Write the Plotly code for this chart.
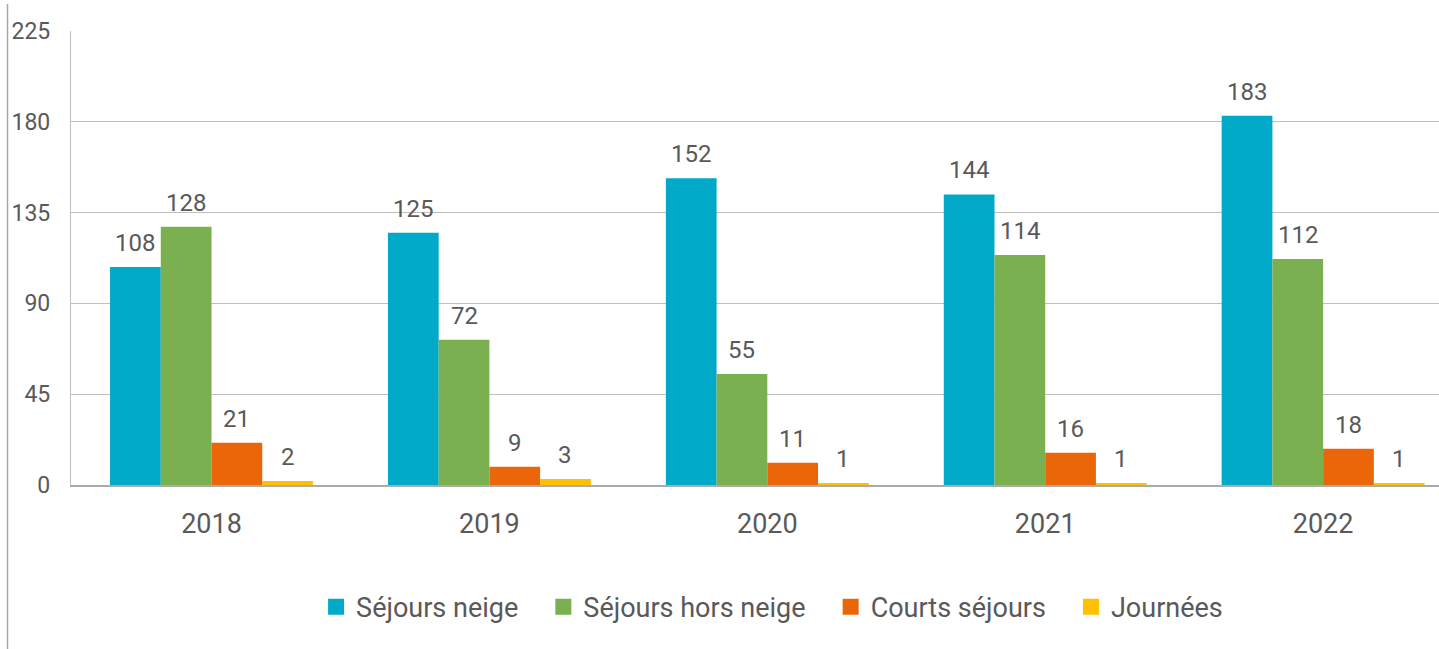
import plotly.graph_objects as go

years = ["2018", "2019", "2020", "2021", "2022"]
sejours_neige = [108, 125, 152, 144, 183]
sejours_hors_neige = [128, 72, 55, 114, 112]
courts_sejours = [21, 9, 11, 16, 18]
journees = [2, 3, 1, 1, 1]

series = [
    ("Séjours neige", sejours_neige, "#00A9C8"),
    ("Séjours hors neige", sejours_hors_neige, "#7AB04F"),
    ("Courts séjours", courts_sejours, "#EB6608"),
    ("Journées", journees, "#FFC000"),
]

FONT = "Roboto"
GREY = "#595959"
BARGAP = 0.27
NB = "\u00a0"

fig = go.Figure()
n = len(series)
slot = (1 - BARGAP) / n
for i, (name, vals, col) in enumerate(series):
    fig.add_trace(go.Bar(
        name=name, x=years, y=vals, marker_color=col, marker_line_width=0,
        showlegend=False,
    ))
    # legend entry with larger square swatch
    label = name + (NB * 3 if i < n - 1 else "")
    fig.add_trace(go.Scatter(
        name=label, x=[None], y=[None], mode="markers",
        marker=dict(symbol="square", size=16, color=col), showlegend=True,
    ))
    # value labels above each bar
    for j, v in enumerate(vals):
        fig.add_annotation(
            x=j + (i - (n - 1) / 2) * slot, y=v, xref="x", yref="y",
            text=str(v), showarrow=False, yanchor="bottom", yshift=8,
            font=dict(family=FONT, size=24, color=GREY),
        )

fig.update_layout(
    width=1439, height=649,
    paper_bgcolor="white", plot_bgcolor="white",
    margin=dict(l=71, r=0, t=31, b=164, autoexpand=False),
    barmode="group", bargap=BARGAP, bargroupgap=0,
    font=dict(family=FONT, color=GREY),
    legend=dict(orientation="h", x=0.5125, xanchor="center", y=-0.269, yanchor="middle",
                font=dict(family=FONT, size=27, color=GREY), itemwidth=30,
                traceorder="normal", itemsizing="trace"),
    xaxis=dict(showgrid=False, showline=True, linecolor="#ABABAB", linewidth=1.5,
               tickfont=dict(family=FONT, size=27, color=GREY), ticks="",
               ticklabelstandoff=14, range=[-0.5056, 4.417], fixedrange=True),
    yaxis=dict(range=[0, 225], tickvals=[0, 45, 90, 135, 180, 225],
               showgrid=True, gridcolor="#BFBFBF", gridwidth=1.2,
               showline=True, linecolor="#BFBFBF", linewidth=1.2,
               zeroline=False, ticks="",
               tickfont=dict(family=FONT, size=23, color=GREY),
               ticklabelstandoff=15),
    showlegend=True,
)

fig.add_shape(type="line", xref="paper", yref="paper",
              x0=-63.5/1368, x1=-63.5/1368, y0=(485-4)/454, y1=(485-649)/454,
              line=dict(color="#A6A6A6", width=1.5))

fig.write_html(
    "out.html",
    config={"displayModeBar": False},
    post_script="document.body.style.margin='0';document.body.style.overflow='hidden';",
)
